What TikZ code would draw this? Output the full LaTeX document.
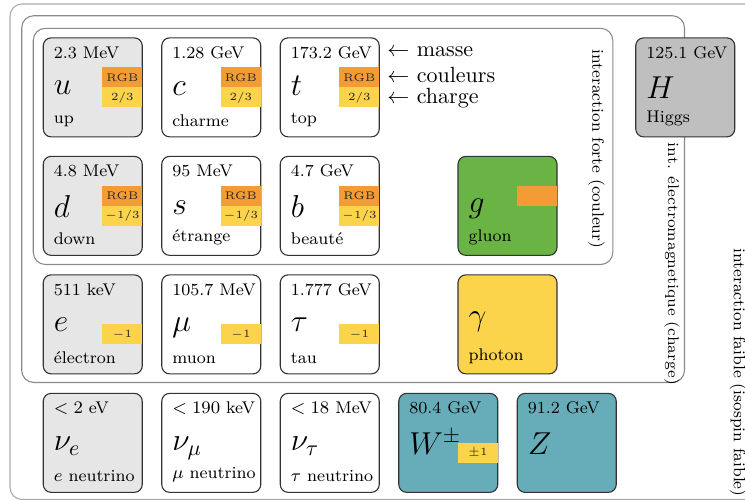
\documentclass[tikz,border=0pt]{standalone}
\usepackage{fontspec}
\usetikzlibrary{calc}

\definecolor{quarkgray}{HTML}{E6E6E6}
\definecolor{higgsgray}{HTML}{BFBFBF}
\definecolor{gluongreen}{HTML}{6AB446}
\definecolor{chargeyellow}{HTML}{FCD44C}
\definecolor{bosonteal}{HTML}{67ADB9}
\definecolor{colororange}{HTML}{F39C35}
\definecolor{framegray}{HTML}{8A8A8A}
\definecolor{outergray}{HTML}{AAAAAA}

% one particle card and its parts; #1 is the card's node name
\newcommand\mkcard[4]{\node[pbox, fill=#4] (#1) at (#2,#3) {};}
\newcommand\mkmass[2]{\node[masslbl] (#1-mass) at ($(#1.north west)+(10.7,20.7)$) {#2};}
\newcommand\mksym[3]{\node[symlbl] (#1-sym) at ($(#1.north west)+(10.7,#3)$) {#2};}
\newcommand\mkname[2]{\node[namelbl] (#1-name) at ($(#1.north west)+(10.7,89.5)$) {#2};}
\newcommand\mkcol[2]{\node[colbar] (#1-col) at ($(#1.north east)+(0,29.5)$) {#2};}
\newcommand\mkchg[2]{\node[chgbar] (#1-chg) at ($(#1.north east)+(0,49.5)$) {#2};}

\begin{document}
\begin{tikzpicture}[x=0.4545pt, y=-0.4545pt,
  pbox/.style={draw=black!80, line width=0.5pt, rounded corners=3.6pt,
    minimum width=45pt, minimum height=45pt, inner sep=0pt, anchor=north west},
  masslbl/.style={font=\fontsize{7.7}{9}\selectfont, anchor=base west, inner sep=0pt},
  symlbl/.style={font=\Large, anchor=base west, inner sep=0pt},
  namelbl/.style={font=\fontsize{7.7}{9}\selectfont, anchor=south west, inner sep=0pt},
  bar/.style={font=\tiny, anchor=north east, minimum width=18.2pt,
    minimum height=9.1pt, inner sep=0pt, text=black!85},
  colbar/.style={bar, fill=colororange},
  chgbar/.style={bar, fill=chargeyellow},
  region/.style={draw=framegray, line width=0.5pt, rounded corners=5.5pt},
  side/.style={font=\fontsize{7.5}{9}\selectfont, rotate=-90, inner sep=0pt},
  key/.style={anchor=base west, inner sep=0pt}
]
\clip (0,0) rectangle (745,499);

% interaction regions
\draw[region, draw=outergray] (10,4) rectangle (780,499.5);
\draw[region] (21.7,15.7) rectangle (684.5,382.5);
\draw[region] (33.3,28.3) rectangle (612.8,264.5);

% first row
\mkcard{u}{42.7}{37.3}{quarkgray}
\mkmass{u}{2.3 MeV}\mksym{u}{$u$}{57}\mkname{u}{up}
\mkcol{u}{RGB}\mkchg{u}{2/3}

\mkcard{c}{161.2}{37.3}{white}
\mkmass{c}{1.28 GeV}\mksym{c}{$c$}{58}\mkname{c}{charme}
\mkcol{c}{RGB}\mkchg{c}{2/3}

\mkcard{t}{279.7}{37.3}{white}
\mkmass{t}{173.2 GeV}\mksym{t}{$t$}{58}\mkname{t}{top}
\mkcol{t}{RGB}\mkchg{t}{2/3}

\mkcard{H}{635.2}{37.3}{higgsgray}
\mkmass{H}{125.1 GeV}\mksym{H}{$H$}{61.5}\mkname{H}{Higgs}

% legend for the card fields
\node[key] (k-mass) at (387,56) {$\leftarrow$ masse};
\node[key] (k-col) at (387,82.3) {$\leftarrow$ couleurs};
\node[key] (k-chg) at (387,103) {$\leftarrow$ charge};

% second row
\mkcard{d}{42.7}{155.8}{quarkgray}
\mkmass{d}{4.8 MeV}\mksym{d}{$d$}{61.5}\mkname{d}{down}
\mkcol{d}{RGB}\mkchg{d}{$-1/3$}

\mkcard{s}{161.2}{155.8}{white}
\mkmass{s}{95 MeV}\mksym{s}{$s$}{58.5}\mkname{s}{étrange}
\mkcol{s}{RGB}\mkchg{s}{$-1/3$}

\mkcard{b}{279.7}{155.8}{white}
\mkmass{b}{4.7 GeV}\mksym{b}{$b$}{61.5}\mkname{b}{beauté}
\mkcol{b}{RGB}\mkchg{b}{$-1/3$}

\mkcard{g}{457.45}{155.8}{gluongreen}
\mksym{g}{$g$}{57}\mkname{g}{gluon}
\mkcol{g}{}

% third row
\mkcard{e}{42.7}{274.3}{quarkgray}
\mkmass{e}{511 keV}\mksym{e}{$e$}{57.5}\mkname{e}{électron}
\mkchg{e}{$-1$}

\mkcard{mu}{161.2}{274.3}{white}
\mkmass{mu}{105.7 MeV}\mksym{mu}{$\mu$}{57.5}\mkname{mu}{muon}
\mkchg{mu}{$-1$}

\mkcard{tau}{279.7}{274.3}{white}
\mkmass{tau}{1.777 GeV}\mksym{tau}{$\tau$}{57.5}\mkname{tau}{tau}
\mkchg{tau}{$-1$}

\mkcard{gamma}{457.45}{274.3}{chargeyellow}
\mksym{gamma}{$\gamma$}{51}\mkname{gamma}{photon}

% fourth row
\mkcard{nue}{42.7}{392.8}{quarkgray}
\mkmass{nue}{$<2$ eV}\mksym{nue}{$\nu_e$}{57.5}\mkname{nue}{$e$ neutrino}

\mkcard{numu}{161.2}{392.8}{white}
\mkmass{numu}{$<190$ keV}\mksym{numu}{$\nu_\mu$}{57.5}\mkname{numu}{$\mu$ neutrino}

\mkcard{nutau}{279.7}{392.8}{white}
\mkmass{nutau}{$<18$ MeV}\mksym{nutau}{$\nu_\tau$}{57.5}\mkname{nutau}{$\tau$ neutrino}

\mkcard{W}{398.2}{392.8}{bosonteal}
\mkmass{W}{80.4 GeV}\mksym{W}{$W^{\pm}$}{61.5}
\mkchg{W}{$\pm1$}

\mkcard{Z}{516.7}{392.8}{bosonteal}
\mkmass{Z}{91.2 GeV}\mksym{Z}{$Z$}{61.5}

% interaction names along the region edges
\node[side] (strong-lbl) at (596.5,149) {interaction forte (couleur)};
\node[side, font=\fontsize{7}{8.5}\selectfont] (em-lbl) at (672,264) {int. électromagnetique (charge)};
\node[side] (weak-lbl) at (738,372.5) {interaction faible (isospin faible)};
\end{tikzpicture}
\end{document}
